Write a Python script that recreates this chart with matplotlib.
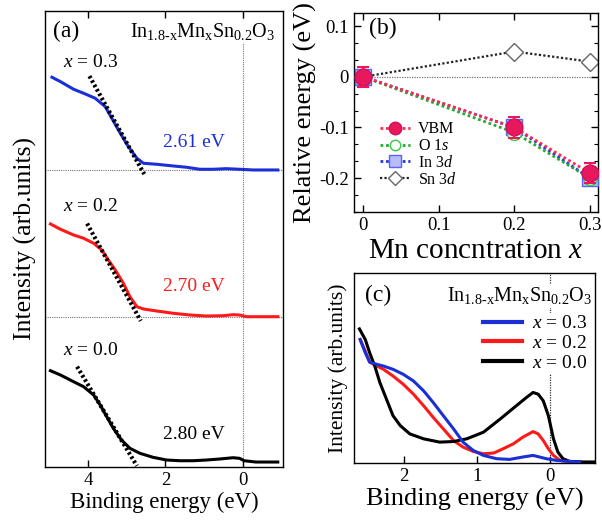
import numpy as np
import matplotlib
matplotlib.use('Agg')
import matplotlib.pyplot as plt
from matplotlib.ticker import AutoMinorLocator

plt.rcParams['font.family'] = ['Liberation Serif', 'DejaVu Serif']
plt.rcParams['mathtext.fontset'] = 'custom'
plt.rcParams['mathtext.rm'] = 'Liberation Serif'
plt.rcParams['mathtext.it'] = 'Liberation Serif:italic'
plt.rcParams['mathtext.default'] = 'regular'
plt.rcParams['axes.unicode_minus'] = False

# ---- panel (a): valence band spectra (stacked) ----
conc_labels = ['$\\mathit{x}$ = 0.3', '$\\mathit{x}$ = 0.2', '$\\mathit{x}$ = 0.0']
colors = ['#1a2fd6', '#ff1a1a', '#000000']

e_a_x03 = [4.94, 4.72, 4.38, 4.12, 3.82, 3.56, 3.39, 3.17, 2.96, 2.74, 2.57, 2.23,
           1.80, 1.45, 1.11, 0.77, 0.42, 0.08, -0.27, -0.91]
i_a_x03 = [92.7, 88.3, 80.7, 76.7, 71.7, 63.3, 51.7, 36.7, 23.3, 11.7, 6.7, 5.7,
           4.0, 2.7, 0.7, 0.7, 1.3, 0.7, 0.0, 0.0]
e_a_x02 = [4.98, 4.72, 4.38, 4.12, 3.86, 3.65, 3.48, 3.30, 3.09, 2.92, 2.74, 2.57,
           2.23, 1.80, 1.37, 0.94, 0.51, 0.25, 0.08, -0.10, -0.91]
i_a_x02 = [92.7, 87.4, 81.7, 78.4, 73.4, 66.7, 56.7, 46.7, 33.4, 20.0, 10.0, 7.7,
           5.7, 3.4, 1.7, 0.7, 1.0, 2.0, 1.7, 0.0, 0.0]
e_a_x00 = [4.98, 4.72, 4.38, 4.12, 3.86, 3.69, 3.52, 3.35, 3.14, 2.92, 2.66, 2.32,
           1.97, 1.63, 1.28, 0.94, 0.60, 0.25, 0.08, -0.04, -0.34, -0.91]
i_a_x00 = [91.3, 87.0, 80.3, 75.3, 67.0, 57.0, 45.3, 33.7, 22.0, 13.7, 8.7, 4.7,
           2.0, 1.3, 1.3, 2.0, 3.0, 4.3, 3.7, 1.3, 0.0, 0.0]

# linear extrapolation of the leading edge
vbm_onset = [2.61, 2.70, 2.80]
tangent_top = [3.97, 4.03, 4.29]
tangent_slope = [69.0, 70.0, 64.0]

# ---- panel (b): relative energy shifts ----
mn_x = [0.0, 0.2, 0.3]
vbm_shift = [0.0, -0.10, -0.19]
vbm_err = [0.02, 0.02, 0.02]
o1s_shift = [0.0, -0.11, -0.20]
in3d_shift = [0.0, -0.10, -0.20]
sn3d_shift = [0.0, 0.05, 0.03]

# ---- panel (c): near-EF region ----
e_c_x03 = [2.60, 2.53, 2.47, 2.37, 2.28, 2.15, 2.01, 1.87, 1.73, 1.60, 1.46, 1.32,
           1.19, 1.05, 0.91, 0.73, 0.55, 0.37, 0.23, 0.14, 0.05, -0.09, -0.27, -0.41]
i_c_x03 = [124, 110.7, 101.3, 99, 97.3, 94, 89, 82.3, 72.3, 60.7, 47.3, 34,
           20.7, 12.3, 7.3, 4, 3.3, 5.7, 7.3, 5.7, 4, 2.3, 1.3, 0.7]
e_c_x02 = [2.60, 2.53, 2.47, 2.37, 2.28, 2.15, 2.01, 1.87, 1.73, 1.60, 1.46, 1.32,
           1.19, 1.05, 0.91, 0.77, 0.64, 0.50, 0.37, 0.23, 0.16, 0.09, 0.02, -0.05,
           -0.14, -0.27, -0.41]
i_c_x02 = [124, 112.3, 101.3, 97.3, 94, 87.3, 79, 69, 57.3, 45.7, 34, 22.3,
           15.7, 11.3, 9, 9.7, 14, 19, 25.7, 31.3, 29, 22.3, 14, 7.3,
           2.3, 0.7, 0.7]
e_c_x00 = [2.61, 2.53, 2.47, 2.40, 2.33, 2.24, 2.15, 2.05, 1.92, 1.73, 1.51, 1.32,
           1.14, 0.91, 0.68, 0.46, 0.32, 0.23, 0.16, 0.09, 0.02, -0.05, -0.11, -0.18,
           -0.27, -0.46, -0.66]
i_c_x00 = [134.7, 124, 110.7, 97.3, 80.7, 64, 47.3, 37.3, 29, 24, 20.7, 21.3,
           24, 30.7, 44, 57.3, 65.7, 70.7, 69, 62.3, 47.3, 24, 10.7, 4,
           1.3, 0.7, 0.7]

title = 'In$_{1.8\\text{-}x}$Mn$_{x}$Sn$_{0.2}$O$_{3}$'

fig = plt.figure(figsize=(6.02, 5.21), dpi=100)


def style_ticks(ax, size=13.5):
    ax.tick_params(direction='in', length=5, width=1, labelsize=size)
    ax.tick_params(which='minor', direction='in', length=3, width=0.8)
    for s in ax.spines.values():
        s.set_linewidth(1)


# (a)
axa = fig.add_axes([0.0748, 0.1036, 0.3956, 0.8754])
offsets = [297, 150.3, 5]
spectra_a = [(e_a_x03, i_a_x03), (e_a_x02, i_a_x02), (e_a_x00, i_a_x00)]
axa.axvline(0, color='#777777', lw=0.8, ls=(0, (1, 1)), zorder=1)
for k, (e, inten) in enumerate(spectra_a):
    off = offsets[k]
    if k < 2:
        axa.axhline(off, color='#777777', lw=0.8, ls=(0, (1, 1)), zorder=1)
    axa.plot(e, np.array(inten) + off, color=colors[k], lw=2.2, zorder=3)
    et = np.array([tangent_top[k], vbm_onset[k] - 0.06])
    axa.plot(et, tangent_slope[k] * (et - vbm_onset[k]) + off, color='black',
             lw=3, ls=(0, (0.6, 0.6)), zorder=4)
axa.text(3.95, 404, conc_labels[0], fontsize=14, ha='center', va='center')
axa.text(3.95, 260, conc_labels[1], fontsize=14, ha='center', va='center')
axa.text(3.95, 117, conc_labels[2], fontsize=14, ha='center', va='center')
axa.text(1.26, 324, '%.2f eV' % vbm_onset[0], color=colors[0], fontsize=14, ha='center', va='center')
axa.text(1.26, 180, '%.2f eV' % vbm_onset[1], color=colors[1], fontsize=14, ha='center', va='center')
axa.text(1.26, 33, '%.2f eV' % vbm_onset[2], color=colors[2], fontsize=14, ha='center', va='center')
axa.text(0.035, 0.955, '(a)', transform=axa.transAxes, fontsize=17, va='center')
axa.text(0.965, 0.955, title, transform=axa.transAxes, fontsize=14.5, ha='right', va='center',
         bbox=dict(fc='white', ec='none', pad=1))
axa.set_xlim(5.12, -1.05)
axa.set_ylim(0, 456)
axa.set_xticks([4, 2, 0])
axa.set_yticks([])
axa.xaxis.set_ticks_position('both')
style_ticks(axa)
axa.set_xlabel('Binding energy (eV)', fontsize=16.5, labelpad=2)
axa.set_ylabel('Intensity (arb.units)', fontsize=18.5, labelpad=6)

# (b)
axb = fig.add_axes([0.588, 0.593, 0.405, 0.382])
axb.axhline(0, color='#777777', lw=0.9, ls=(0, (1, 1)), zorder=1)
dot = (0, (1, 1))
axb.plot(mn_x, sn3d_shift, color='#222222', lw=1.6, ls=dot, marker='D', ms=9,
         mfc='white', mec='#666666', mew=1, label='Sn 3$\\mathit{d}$', zorder=2)
axb.plot(mn_x, in3d_shift, color='#2233ee', lw=2, ls=dot, marker='s', ms=11,
         mfc='#b9bdf7', mec='#5566ff', mew=1, label='In 3$\\mathit{d}$', zorder=3)
axb.plot(mn_x, o1s_shift, color='#22aa33', lw=2, ls=dot, marker='o', ms=10,
         mfc='white', mec='#33cc44', mew=1, label='O 1$\\mathit{s}$', zorder=4)
axb.plot(mn_x, vbm_shift, color='#ff2a4a', lw=2, ls=dot, marker='o', ms=12,
         mfc='#e8185c', mec='#d0105a', mew=1, label='VBM', zorder=5)
axb.errorbar(mn_x, vbm_shift, yerr=vbm_err, fmt='none', ecolor='#e8185c',
             elinewidth=1.5, capsize=4, capthick=1.5, zorder=6)
h, l = axb.get_legend_handles_labels()
axb.legend(h[::-1], l[::-1], loc='lower left', bbox_to_anchor=(0.08, 0.09), frameon=False,
           fontsize=11.5, markerscale=0.75, handlelength=1.9, handletextpad=0.5,
           labelspacing=0.05, borderaxespad=0)
axb.text(0.06, 0.92, '(b)', transform=axb.transAxes, fontsize=17, va='center')
axb.set_xlim(-0.0125, 0.3105)
axb.set_ylim(-0.267, 0.126)
axb.set_xticks([0, 0.1, 0.2, 0.3])
axb.set_xticklabels(['0', '0.1', '0.2', '0.3'])
axb.set_yticks([-0.2, -0.1, 0, 0.1])
axb.set_yticklabels(['-0.2', '-0.1', '0', '0.1'])
axb.yaxis.set_minor_locator(AutoMinorLocator(3))
axb.xaxis.set_ticks_position('both')
axb.yaxis.set_ticks_position('both')
style_ticks(axb)
axb.set_xlabel('Mn concntration $\\mathit{x}$', fontsize=21, labelpad=3)
axb.set_ylabel('Relative energy (eV)', fontsize=19, labelpad=2)

# (c)
axc = fig.add_axes([0.588, 0.111, 0.400, 0.365])
axc.axvline(0, color='#333333', lw=0.9, ls=(0, (1, 1)), zorder=1)
axc.plot(e_c_x03, i_c_x03, color=colors[0], lw=2.2, label=conc_labels[0], zorder=3)
axc.plot(e_c_x02, i_c_x02, color=colors[1], lw=2.2, label=conc_labels[1], zorder=2)
axc.plot(e_c_x00, i_c_x00, color=colors[2], lw=2.2, label=conc_labels[2], zorder=2)
leg = axc.legend(loc='upper right', bbox_to_anchor=(0.975, 0.79), frameon=True, fontsize=14,
                 handlelength=2.0, handletextpad=0.5, labelspacing=0.1, borderaxespad=0,
                 borderpad=0.1)
leg.get_frame().set_edgecolor('none')
leg.get_frame().set_alpha(1)
for ln in leg.get_lines():
    ln.set_linewidth(3)
axc.text(0.045, 0.88, '(c)', transform=axc.transAxes, fontsize=17, va='center')
axc.text(0.99, 0.88, title, transform=axc.transAxes, fontsize=14.5, ha='right', va='center',
         bbox=dict(fc='white', ec='none', pad=1))
axc.set_xlim(2.685, -0.616)
axc.set_ylim(-0.5, 191)
axc.set_xticks([2, 1, 0])
axc.set_yticks([])
style_ticks(axc)
axc.set_xlabel('Binding energy (eV)', fontsize=19, labelpad=2)
axc.set_ylabel('Intensity (arb.units)', fontsize=15.5, labelpad=4)

fig.savefig('out.png', dpi=100)
